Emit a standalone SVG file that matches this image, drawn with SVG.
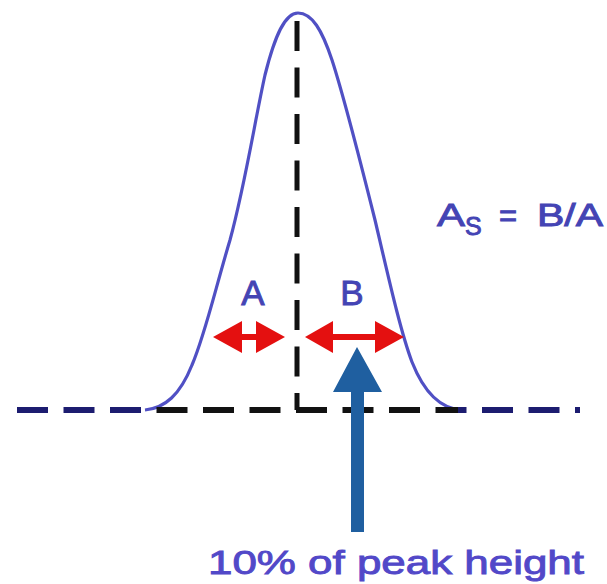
<svg xmlns="http://www.w3.org/2000/svg" width="607" height="584" viewBox="0 0 607 584">
<style>
.lbl{font-family:"Liberation Sans",Arial,sans-serif;fill:#4444b4;stroke:#4444b4;stroke-width:0.9;}
.cap{fill:#5248c8;stroke:#5248c8;}
.red{fill:#e41010;}
</style>
<defs>
<linearGradient id="base" gradientUnits="userSpaceOnUse" x1="0" y1="0" x2="607" y2="0">
<stop offset="0" stop-color="#1c1c70"/>
<stop offset="0.24" stop-color="#1c1c70"/>
<stop offset="0.24" stop-color="#111111"/>
<stop offset="0.755" stop-color="#111111"/>
<stop offset="0.755" stop-color="#1c1c70"/>
<stop offset="1" stop-color="#1c1c70"/>
</linearGradient>
</defs>
<rect width="607" height="584" fill="#ffffff"/>
<g id="connectors">
<path id="peak-curve" d="M145,410 C165,408 180,395 192,365 C205,335 215,290 230,240 C245,185 255,120 265,75 C275,35 285,13 298,13 C312,13 322,30 332,60 C345,100 360,160 375,220 C388,275 400,330 412,362 C425,395 442,409 462,410" fill="none" stroke="#5050c4" stroke-width="3.2" stroke-linejoin="round"/>
<line id="baseline" x1="14" y1="410" x2="580" y2="410" stroke="url(#base)" stroke-width="6" stroke-dasharray="31 15.5" stroke-dashoffset="-3"/>
<line id="centerline" x1="297" y1="18" x2="297" y2="410" stroke="#111111" stroke-width="5" stroke-dasharray="30 16.5" stroke-dashoffset="-3"/>
<g id="arrow-A">
<polygon class="red" points="213,337 242,321 242,334 256,334 256,321 285,337 256,353 256,340 242,340 242,353"/>
</g>
<g id="arrow-B">
<polygon class="red" points="305,337 333,321 333,334 375,334 375,321 404,337 375,353 375,340 333,340 333,353"/>
</g>
<g id="arrow-10pct">
<polygon points="357,347 382,392 364,392 364,532 351,532 351,392 333,392" fill="#1f5fa0"/>
</g>
</g>
<g id="label-A"><text class="lbl" x="253" y="305" font-size="35" text-anchor="middle">A</text></g>
<g id="label-B"><text class="lbl" x="352" y="305" font-size="35" text-anchor="middle">B</text></g>
<g id="formula">
<text class="lbl" x="437" y="226" font-size="31" textLength="28" lengthAdjust="spacingAndGlyphs">A</text>
<text class="lbl" x="465" y="235" font-size="25">S</text>
<text class="lbl" x="499" y="226" font-size="31">=</text>
<text class="lbl" x="537" y="226" font-size="31" textLength="66" lengthAdjust="spacingAndGlyphs">B/A</text>
</g>
<g id="caption"><text class="lbl cap" x="208" y="574" font-size="34" textLength="376" lengthAdjust="spacingAndGlyphs">10% of peak height</text></g>
</svg>
